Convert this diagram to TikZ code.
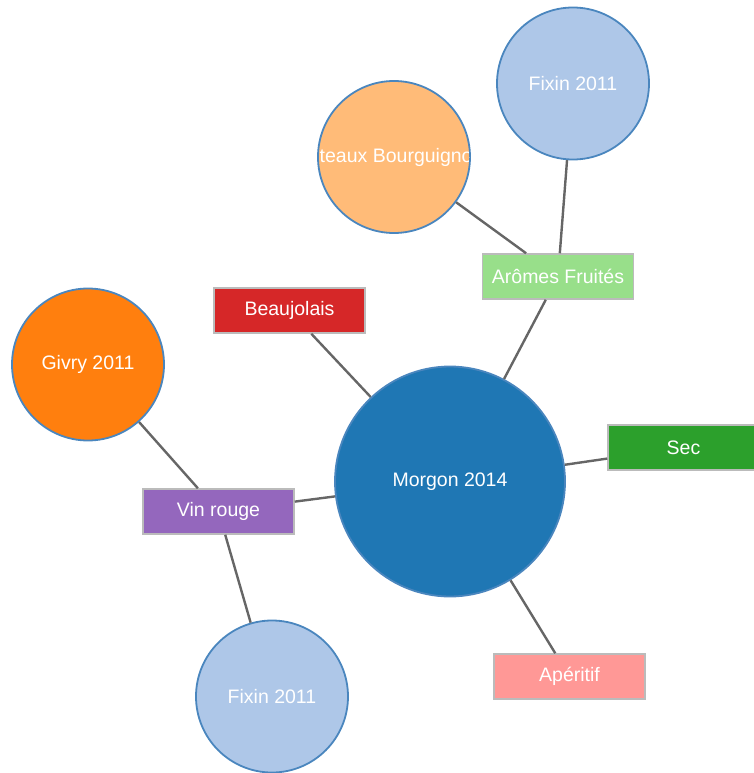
\documentclass[tikz,border=0pt]{standalone}
\usepackage{fontspec}
\setmainfont{Liberation Sans}
\usepackage{xcolor}
\usepackage{tikz}
\usetikzlibrary{positioning}
\definecolor{wineblue}{HTML}{1F77B4}
\definecolor{lightblue}{HTML}{AEC7E8}
\definecolor{wineorange}{HTML}{FF7F0E}
\definecolor{lightorange}{HTML}{FFBB78}
\definecolor{winegreen}{HTML}{2CA02C}
\definecolor{lightgreen}{HTML}{98DF8A}
\definecolor{winered}{HTML}{D62728}
\definecolor{winepink}{HTML}{FF9896}
\definecolor{winepurple}{HTML}{9467BD}
\definecolor{ringblue}{HTML}{4A86BE}
\definecolor{linkgray}{HTML}{666666}
\definecolor{tagborder}{HTML}{BBBBBB}
\tikzset{
  % wine circles — usage: \node[wine=wineblue] ...
  wine/.style={circle, draw=ringblue, line width=1.8pt, fill=#1,
               minimum size=152pt, inner sep=0pt, text=white},
  % tag boxes — usage: \node[tag=winered] ...
  tag/.style={rectangle, draw=tagborder, line width=1.5pt, fill=#1,
              minimum width=151pt, minimum height=45pt, inner sep=0pt,
              text=white},
  % links
  link/.style={draw=linkgray, line width=2.4pt},
}

\begin{document}
\begin{tikzpicture}[x=1pt, y=-1pt, font=\fontsize{19.5}{23}\selectfont]
\useasboundingbox (0,0) rectangle (754,773);

% ── Centre ───────────────────────────────────────────────────────────────────
\node[wine=wineblue, minimum size=230pt] (morgon) at (450, 481.5) {Morgon 2014};

% ── Tags ─────────────────────────────────────────────────────────────────────
\node[tag=winered]    (beaujolais) at (289.5, 310.5) {Beaujolais};
\node[tag=lightgreen] (aromes)     at (558,   276.5) {Arômes Fruités};
\node[tag=winegreen]  (sec)        at (683.5, 447.5) {Sec};
\node[tag=winepurple] (vinrouge)   at (218.5, 511.5) {Vin rouge};
\node[tag=winepink]   (aperitif)   at (569.5, 676.5) {Apéritif};

% ── Other wines ──────────────────────────────────────────────────────────────
\node[wine=lightblue]   (fixintop) at (573, 83.5)  {Fixin 2011};
\node[wine=lightorange] (coteaux)  at (394, 157)   {};
\node[wine=wineorange]  (givry)    at (88,  364.5) {Givry 2011};
\node[wine=lightblue]   (fixinbot) at (272, 696.5) {Fixin 2011};

% label wider than its circle: clipped
\begin{scope}
  \clip (coteaux) circle (75pt);
  \node[text=white, inner sep=0pt] (coteauxlabel) at (coteaux) {Coteaux Bourguignons};
\end{scope}

% ── Links ────────────────────────────────────────────────────────────────────
% morgon - tags
\draw[link] (morgon) -- (beaujolais);
\draw[link] (morgon) -- (aromes);
\draw[link] (morgon) -- (sec);
\draw[link] (morgon) -- (vinrouge);
\draw[link] (morgon) -- (aperitif);

% aromes fruites - wines
\draw[link] (aromes) -- (fixintop);
\draw[link] (aromes) -- (coteaux);

% vin rouge - wines
\draw[link] (vinrouge) -- (givry);
\draw[link] (vinrouge) -- (fixinbot);

\end{tikzpicture}
\end{document}
